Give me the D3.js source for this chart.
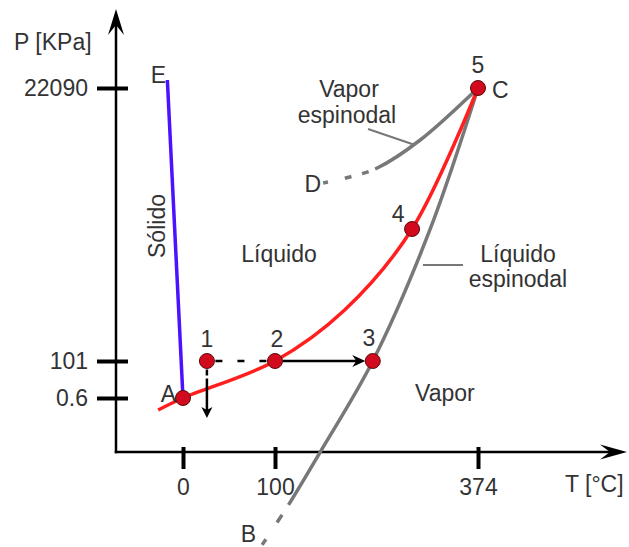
<!DOCTYPE html>
<html>
<head>
<meta charset="utf-8">
<script src="https://cdn.jsdelivr.net/npm/d3@7"></script>
<style>
body{margin:0;background:#fff;}
svg text{font-family:"Liberation Sans",Arial,sans-serif;font-size:23px;fill:#333;}
</style>
</head>
<body>
<script>
//axis ticks (schematic, not to scale)
var tTicks = [0, 100, 374];
var pTicks = [0.6, 101, 22090];
var tTickLabels = ["0", "100", "374"];
var pTickLabels = ["0.6", "101", "22090"];

//saturation curve A -> C (red)
var satT = [-27, 0, 100, 194, 285, 374];
var satP = [-32, 0.6, 101, 4209, 10733, 22090];

//liquid spinodal B -> C (gray), dashed near B
var liqSpT = [86, 118, 161, 232, 309, 374];
var liqSpP = [-398, -290, -146, 101, 10653, 22090];

//vapor spinodal D -> C (gray), dashed near D
var vapSpT = [165, 201, 238, 296, 374];
var vapSpP = [14438, 14921, 15646, 17902, 22090];

//melting line E -> A (blue)
var meltT = [-17, 0];
var meltP = [22734, 0.6];

//state points
var ptNames = ["A", "1", "2", "3", "4", "5"];
var ptT = [0, 26, 100, 232, 285, 374];
var ptP = [0.6, 101, 101, 101, 10733, 22090];

//process 1 -> 2 (dashed), 2 -> 3 (arrow), 1 -> down (arrow)
var procFromT = [26, 100, 26];
var procFromP = [101, 101, 101];
var procToT = [100, 232, 26];
var procToP = [101, 101, -54];

window.onload = setChart;

function setChart(){

    var width = 629,
        height = 547;

    var svg = d3.select("body")
        .append("svg")
        .attr("width", width)
        .attr("height", height);

    //piecewise scales, the diagram is schematic
    var x = d3.scaleLinear()
        .domain(tTicks)
        .range([183, 275, 478]);

    var y = d3.scaleLinear()
        .domain(pTicks)
        .range([398, 361, 88]);

    var x0 = 116, y0 = 452;

    function pairs(ts, ps){
        return ts.map(function(t, i){ return [t, ps[i]]; });
    }

    var smooth = d3.line()
        .x(function(d){ return x(d[0]); })
        .y(function(d){ return y(d[1]); })
        .curve(d3.curveCatmullRom.alpha(0.5));

    var straight = d3.line()
        .x(function(d){ return x(d[0]); })
        .y(function(d){ return y(d[1]); });

    //arrow head, tip at (tx,ty)
    function head(g, tx, ty, angle, len, half, notch){
        g.append("path")
            .attr("d", "M0,0L" + (-len) + "," + (-half) + "L" + (-notch) + ",0L" + (-len) + "," + half + "Z")
            .attr("transform", "translate(" + tx + "," + ty + ") rotate(" + angle + ")")
            .attr("fill", "#000");
    }

    //axes lines with arrows
    var axes = svg.append("g");
    axes.append("line")
        .attr("x1", x0 - 1.25).attr("y1", y0)
        .attr("x2", 612).attr("y2", y0)
        .attr("stroke", "#000").attr("stroke-width", 2.5);
    head(axes, 627, y0, 0, 27, 7.5, 17);
    axes.append("line")
        .attr("x1", x0).attr("y1", y0 + 1.25)
        .attr("x2", x0).attr("y2", 24)
        .attr("stroke", "#000").attr("stroke-width", 2.5);
    head(axes, x0, 9, -90, 26, 8, 16);

    //ticks
    var xAxis = d3.axisBottom(x)
        .tickValues(tTicks)
        .tickSize(17)
        .tickPadding(10)
        .tickFormat(function(d, i){ return tTickLabels[i]; });
    var gx = svg.append("g")
        .attr("transform", "translate(0," + y0 + ")")
        .call(xAxis);
    gx.select(".domain").remove();
    gx.selectAll(".tick line")
        .attr("y1", -5)
        .attr("stroke", "#000")
        .attr("stroke-width", 4);

    var yAxis = d3.axisLeft(y)
        .tickValues(pTicks)
        .tickSize(19)
        .tickPadding(9)
        .tickFormat(function(d, i){ return pTickLabels[i]; });
    var gy = svg.append("g")
        .attr("transform", "translate(" + x0 + ",0)")
        .call(yAxis);
    gy.select(".domain").remove();
    gy.selectAll(".tick line")
        .attr("x1", 12)
        .attr("stroke", "#000")
        .attr("stroke-width", 4);

    //axis titles
    svg.append("text").attr("x", 14).attr("y", 50).text("P [KPa]");
    svg.append("text").attr("x", 565).attr("y", 492).text("T [°C]");

    //leader lines
    svg.append("line")
        .attr("x1", 368).attr("y1", 129).attr("x2", 415).attr("y2", 145)
        .attr("stroke", "#777").attr("stroke-width", 2);
    svg.append("line")
        .attr("x1", 423).attr("y1", 265).attr("x2", 463).attr("y2", 265)
        .attr("stroke", "#777").attr("stroke-width", 2);

    //melting line
    svg.append("path")
        .datum(pairs(meltT, meltP))
        .attr("d", straight)
        .attr("fill", "none")
        .attr("stroke", "#4b12ff")
        .attr("stroke-width", 3.5);

    //spinodals, dashes first then solid
    svg.append("path")
        .datum(pairs(liqSpT, liqSpP))
        .attr("d", smooth)
        .attr("fill", "none")
        .attr("stroke", "#787878")
        .attr("stroke-width", 3.5)
        .attr("stroke-dasharray", "7,20,9,12,2000");
    svg.append("path")
        .datum(pairs(vapSpT, vapSpP))
        .attr("d", smooth)
        .attr("fill", "none")
        .attr("stroke", "#787878")
        .attr("stroke-width", 3.5)
        .attr("stroke-dasharray", "5,17,7,11,7,7,2000");

    //saturation curve
    svg.append("path")
        .datum(pairs(satT, satP))
        .attr("d", smooth)
        .attr("fill", "none")
        .attr("stroke", "#ff1f1f")
        .attr("stroke-width", 3.5);

    //process lines
    var r = 7.5;
    var proc = svg.append("g");
    //1 -> 2 dashed
    proc.append("line")
        .attr("x1", x(procFromT[0]) + r + 1).attr("y1", y(procFromP[0]))
        .attr("x2", x(procToT[0]) - r).attr("y2", y(procToP[0]))
        .attr("stroke", "#000").attr("stroke-width", 2.5)
        .attr("stroke-dasharray", "7,15");
    //2 -> 3 arrow
    var tip23 = x(procToT[1]) - r;
    proc.append("line")
        .attr("x1", x(procFromT[1]) + r).attr("y1", y(procFromP[1]))
        .attr("x2", tip23 - 8).attr("y2", y(procToP[1]))
        .attr("stroke", "#000").attr("stroke-width", 2.5);
    head(proc, tip23, y(procToP[1]), 0, 13, 6, 9);
    //1 down arrow
    var tipDown = y(procToP[2]);
    proc.append("line")
        .attr("x1", x(procFromT[2])).attr("y1", y(procFromP[2]) + r + 1)
        .attr("x2", x(procToT[2])).attr("y2", tipDown - 7)
        .attr("stroke", "#000").attr("stroke-width", 2.5)
        .attr("stroke-dasharray", "6,3,200");
    head(proc, x(procToT[2]), tipDown, 90, 11, 5.5, 8);

    //state points
    svg.selectAll(".pt")
        .data(ptNames)
        .enter()
        .append("circle")
        .attr("class", "pt")
        .attr("cx", function(d, i){ return x(ptT[i]); })
        .attr("cy", function(d, i){ return y(ptP[i]); })
        .attr("r", r)
        .attr("fill", "#d10a1e")
        .attr("stroke", "#5c0a0a")
        .attr("stroke-width", 1);

    //point numbers
    var numDx = [0, 0, 2, -4, -14, 0];
    var numDy = [0, -14, -14, -15, -7, -15];
    svg.selectAll(".num")
        .data(ptNames)
        .enter()
        .filter(function(d){ return d != "A"; })
        .append("text")
        .attr("class", "num")
        .attr("text-anchor", "middle")
        .attr("x", function(d){ var i = ptNames.indexOf(d); return x(ptT[i]) + numDx[i]; })
        .attr("y", function(d){ var i = ptNames.indexOf(d); return y(ptP[i]) + numDy[i]; })
        .text(function(d){ return d; });

    //letter labels
    svg.append("text").attr("x", 176).attr("y", 402).attr("text-anchor", "end").text("A");
    svg.append("text").attr("x", 492).attr("y", 98).text("C");
    svg.append("text").attr("x", 166).attr("y", 83).attr("text-anchor", "end").text("E");
    svg.append("text").attr("x", 256).attr("y", 542).attr("text-anchor", "end").text("B");
    svg.append("text").attr("x", 321).attr("y", 192).attr("text-anchor", "end").text("D");

    //region labels
    svg.append("text").attr("x", 279).attr("y", 262).attr("text-anchor", "middle").text("Líquido");
    svg.append("text").attr("x", 415).attr("y", 401).text("Vapor");
    svg.append("text")
        .attr("transform", "translate(165,226) rotate(-90)")
        .attr("text-anchor", "middle")
        .text("Sólido");
    svg.append("text").attr("x", 349).attr("y", 97).attr("text-anchor", "middle").text("Vapor");
    svg.append("text").attr("x", 347).attr("y", 123).attr("text-anchor", "middle").text("espinodal");
    svg.append("text").attr("x", 518).attr("y", 262).attr("text-anchor", "middle").text("Líquido");
    svg.append("text").attr("x", 518).attr("y", 287).attr("text-anchor", "middle").text("espinodal");
}
</script>
</body>
</html>
